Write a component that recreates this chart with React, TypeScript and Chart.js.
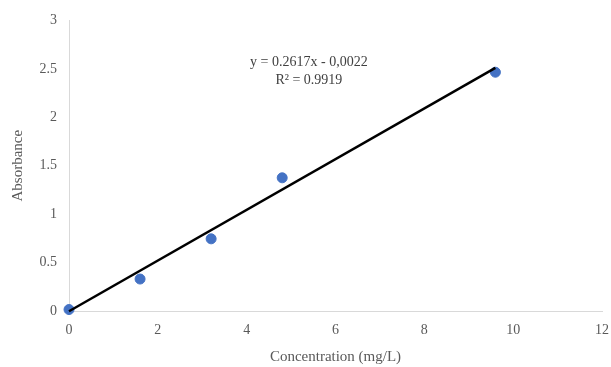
import React, { useEffect, useRef } from "react";
import { Chart, registerables } from "chart.js";

Chart.register(...registerables);

const concentrations = [0, 1.6, 3.2, 4.8, 9.6];
const absorbances = [0.015, 0.33, 0.745, 1.375, 2.465];
const slope = 0.2617;
const intercept = -0.0022;
const trendXs = [0, 9.6];
const equationLines = ["y = 0.2617x - 0,0022", "R² = 0.9919"];

const FONT = "'Liberation Serif', 'Times New Roman', serif";

const equationPlugin = {
  id: "equationLabel",
  afterDatasetsDraw(chart: any) {
    const { ctx, scales } = chart;
    const x = scales.x.getPixelForValue(5.4);
    const y = scales.y.getPixelForValue(2.57);
    ctx.save();
    ctx.font = `14px ${FONT}`;
    ctx.fillStyle = "#404040";
    ctx.textAlign = "center";
    ctx.textBaseline = "middle";
    ctx.fillText(equationLines[0], x, y);
    ctx.fillText(equationLines[1], x, y + 18);
    ctx.restore();
  },
};

export default function App() {
  const ref = useRef<HTMLCanvasElement>(null);
  useEffect(() => {
    document.body.style.margin = "0";
    const chart = new Chart(ref.current!, {
      type: "scatter",
      data: {
        datasets: [
          {
            type: "line",
            label: "Trend",
            data: trendXs.map((x) => ({ x, y: slope * x + intercept })),
            borderColor: "#000000",
            borderWidth: 2.5,
            pointRadius: 0,
            fill: false,
            clip: false,
          },
          {
            type: "scatter",
            label: "Absorbance",
            data: concentrations.map((x, i) => ({ x, y: absorbances[i] })),
            backgroundColor: "#4472C4",
            borderColor: "#4472C4",
            pointRadius: 5,
            clip: false,
          },
        ],
      },
      options: {
        animation: false,
        responsive: false,
        layout: { padding: { top: 20, right: 2, left: 9, bottom: 0 } },
        plugins: { legend: { display: false }, tooltip: { enabled: false } },
        scales: {
          x: {
            type: "linear",
            min: 0,
            max: 12,
            ticks: { stepSize: 2, color: "#595959", font: { family: FONT, size: 14 }, padding: 2 },
            grid: {
              display: true,
              drawOnChartArea: false,
              drawTicks: true,
              tickLength: 9,
              tickColor: "rgba(0,0,0,0)",
            },
            border: { color: "#d9d9d9", width: 1 },
            title: {
              display: true,
              text: "Concentration (mg/L)",
              color: "#595959",
              font: { family: FONT, size: 15 },
              padding: { top: 0, bottom: 1 },
            },
            afterFit(scale: any) {
              scale.height = 56;
            },
          },
          y: {
            min: 0,
            max: 3,
            ticks: {
              stepSize: 0.5,
              color: "#595959",
              font: { family: FONT, size: 14 },
              padding: 12,
              callback: (v: any) => String(v),
            },
            grid: { display: false, drawTicks: false },
            border: { color: "#d9d9d9", width: 1 },
            title: {
              display: true,
              text: "Absorbance",
              color: "#595959",
              font: { family: FONT, size: 15 },
              padding: { top: 0, bottom: 4 },
            },
            afterFit(scale: any) {
              scale.width = 60;
            },
          },
        },
      },
      plugins: [equationPlugin],
    });
    return () => chart.destroy();
  }, []);
  return (
    <div style={{ width: 611, height: 367 }}>
      <canvas ref={ref} width={611} height={367} />
    </div>
  );
}
